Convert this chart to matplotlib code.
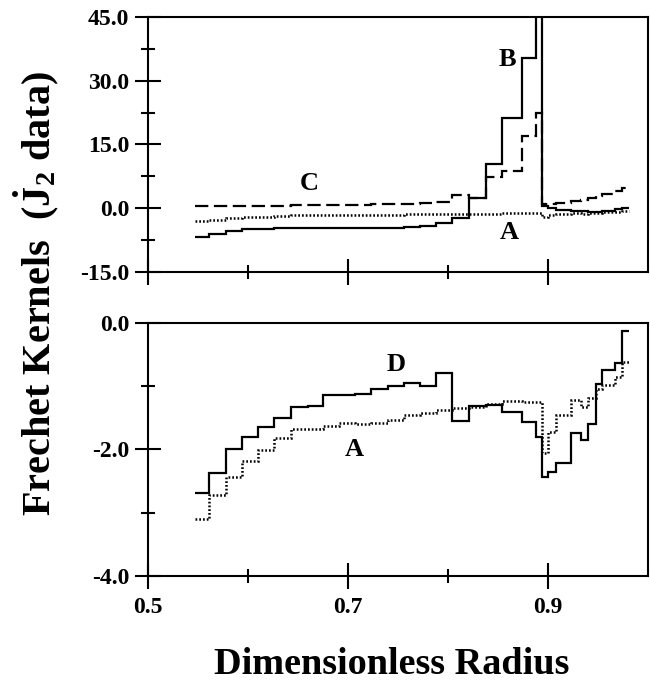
import numpy as np
import matplotlib
matplotlib.use("Agg")
import matplotlib.pyplot as plt
from matplotlib.ticker import FixedLocator

# Bin edges in dimensionless radius (shared by all kernels)
radius_edges = [0.547, 0.561, 0.578, 0.594, 0.610, 0.626, 0.643, 0.660, 0.675,
                0.691, 0.707, 0.723, 0.740, 0.756, 0.772, 0.788, 0.804, 0.821,
                0.838, 0.854, 0.874, 0.888, 0.894, 0.900, 0.908, 0.923, 0.933,
                0.940, 0.948, 0.954, 0.967, 0.974, 0.981]

# Kernel A (dotted, shown in both panels)
kernel_a = [-3.10, -2.72, -2.43, -2.18, -2.01, -1.82, -1.68, -1.68, -1.63,
            -1.58, -1.60, -1.58, -1.53, -1.46, -1.42, -1.38, -1.35, -1.33,
            -1.28, -1.23, -1.25, -1.25, -2.06, -1.72, -1.46, -1.21, -1.33,
            -1.19, -1.05, -0.98, -0.85, -0.62]
# Kernel B (solid, top panel) - spike goes off the top
kernel_b = [-6.9, -6.1, -5.5, -4.9, -4.8, -4.7, -4.6, -4.6, -4.6, -4.7, -4.7,
            -4.7, -4.6, -4.5, -4.1, -3.5, -2.4, 2.3, 10.3, 21.2, 35.3, 80.0,
            0.5, 0.0, -0.4, -0.6, -0.7, -0.8, -0.8, -0.7, -0.3, 0.0]
# Kernel C (dashed, top panel)
kernel_c = [0.5, 0.5, 0.5, 0.5, 0.6, 0.6, 0.7, 0.7, 0.8, 0.8, 0.8, 0.9, 0.9,
            1.0, 1.1, 1.4, 3.0, 2.4, 7.4, 8.8, 17.0, 22.4, 0.9, 1.0, 1.3, 1.7,
            2.0, 2.5, 2.9, 3.3, 4.0, 4.8]
# Kernel D (solid, bottom panel)
kernel_d = [-2.69, -2.37, -2.00, -1.80, -1.65, -1.50, -1.33, -1.31, -1.14,
            -1.14, -1.12, -1.05, -1.00, -0.95, -1.00, -0.79, -1.55, -1.32,
            -1.30, -1.41, -1.56, -1.80, -2.44, -2.35, -2.22, -1.74, -1.85,
            -1.59, -0.97, -0.75, -0.64, -0.13]

x_major = [0.5, 0.7, 0.9]
x_minor = [0.6, 0.8]
top_major = [-15, 0, 15, 30, 45]
top_minor = [-7.5, 7.5, 22.5, 37.5]
bot_major = [-4, -2, 0]
bot_minor = [-3, -1]

plt.rcParams['font.family'] = 'Liberation Serif'
plt.rcParams['font.weight'] = 'bold'
plt.rcParams['axes.unicode_minus'] = False
plt.rcParams['mathtext.fontset'] = 'custom'
plt.rcParams['mathtext.rm'] = 'Liberation Serif:bold'
plt.rcParams['mathtext.bf'] = 'Liberation Serif:bold'
plt.rcParams['mathtext.it'] = 'Liberation Serif:bold:italic'

fig = plt.figure(figsize=(6.5, 6.83), dpi=100)
ax1 = fig.add_axes([0.228, 0.602, 0.769, 0.373])
ax2 = fig.add_axes([0.228, 0.157, 0.769, 0.370])

lw = 1.6
dash = (0, (6, 2.5))
dots = (0, (0.7, 0.8))

# top panel: A, B, C
ax1.stairs(kernel_b, radius_edges, baseline=None, color='black', lw=lw)
ax1.stairs(kernel_c, radius_edges, baseline=None, color='black', lw=lw, linestyle=dash)
ax1.stairs(kernel_a, radius_edges, baseline=None, color='black', lw=1.8, linestyle=dots)
ax1.set_ylim(-15, 45)

# bottom panel: A, D
ax2.stairs(kernel_d, radius_edges, baseline=None, color='black', lw=lw)
ax2.stairs(kernel_a, radius_edges, baseline=None, color='black', lw=1.8, linestyle=dots)
ax2.set_ylim(-4, 0)

for ax, ymaj, ymin in [(ax1, top_major, top_minor), (ax2, bot_major, bot_minor)]:
    ax.set_xlim(0.5, 1.0)
    ax.xaxis.set_major_locator(FixedLocator(x_major))
    ax.xaxis.set_minor_locator(FixedLocator(x_minor))
    ax.yaxis.set_major_locator(FixedLocator(ymaj))
    ax.yaxis.set_minor_locator(FixedLocator(ymin))
    ax.tick_params(which='major', direction='inout', length=19, width=1.5,
                   labelsize=17, pad=4)
    ax.tick_params(which='minor', direction='inout', length=10, width=1.5)
    ax.tick_params(axis='x', which='major', pad=6)
    for s in ax.spines.values():
        s.set_linewidth(1.5)
    ax.set_yticklabels(['%.1f' % v for v in ymaj])

ax1.set_xticklabels([])
ax2.set_xticklabels(['%.1f' % v for v in x_major])

# curve letters
ax1.text(0.859, 35.0, 'B', fontsize=19, ha='center', va='center')
ax1.text(0.661, 5.9, 'C', fontsize=19, ha='center', va='center')
ax1.text(0.861, -5.8, 'A', fontsize=19, ha='center', va='center')
ax2.text(0.748, -0.66, 'D', fontsize=19, ha='center', va='center')
ax2.text(0.706, -2.0, 'A', fontsize=19, ha='center', va='center')

fig.text(0.056, 0.57, r'Frechet Kernels  ($\dot{\mathbf{J}}_{\mathbf{2}}$ data)',
         rotation=90, fontsize=29, ha='center', va='center')
fig.text(0.603, 0.013, 'Dimensionless Radius', fontsize=27.5, ha='center',
         va='baseline')

fig.savefig('out.png', dpi=100)
